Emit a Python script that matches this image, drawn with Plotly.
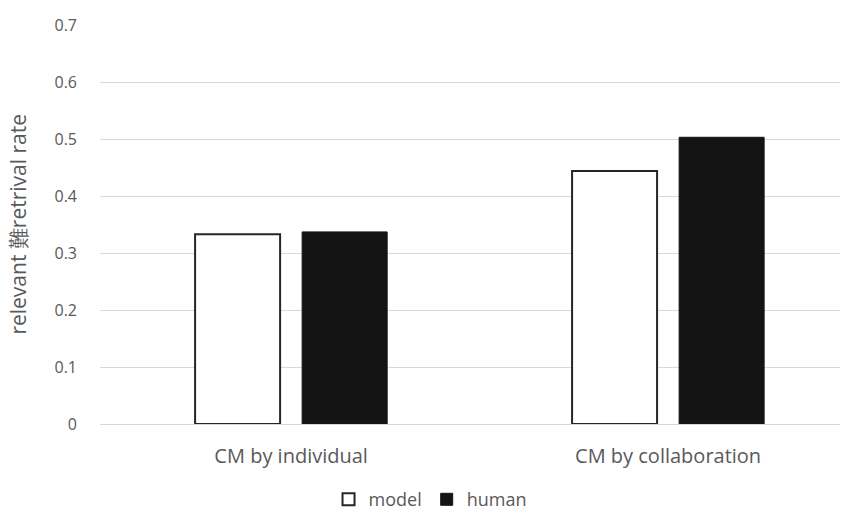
import plotly.graph_objects as go

categories = ["CM by individual", "CM by collaboration"]
model_rate = [0.333, 0.444]
human_rate = [0.337, 0.503]
y_ticks = [0, 0.1, 0.2, 0.3, 0.4, 0.5, 0.6, 0.7]
y_tick_labels = ["0", "0.1", "0.2", "0.3", "0.4", "0.5", "0.6", "0.7"]
y_title = "relevant 難retrival rate"

FONT = "Open Sans, Noto Sans, sans-serif"
GREY = "#595959"

fig = go.Figure()
fig.add_trace(go.Bar(
    name="model", x=categories, y=model_rate,
    marker=dict(color="white", line=dict(color="#262626", width=2)),
))
fig.add_trace(go.Bar(
    name="human", x=categories, y=human_rate,
    marker=dict(color="#141414", line=dict(color="#141414", width=1)),
))

# vertical axis title placed as a rotated annotation near the left edge
fig.add_annotation(
    text=y_title, textangle=-90, xref="paper", yref="paper",
    x=-0.112, y=0.5, xanchor="center", yanchor="middle", showarrow=False,
    font=dict(family=FONT, size=21, color=GREY),
)

fig.update_layout(
    width=851, height=514,
    margin=dict(l=100, r=11, t=25, b=90),
    plot_bgcolor="white", paper_bgcolor="white",
    barmode="group", bargap=0.432, bargroupgap=0.206,
    font=dict(family=FONT, size=16, color=GREY),
    showlegend=True,
    legend=dict(orientation="h", x=0.446, xanchor="center",
                yref="container", y=0.028, yanchor="middle",
                font=dict(size=18, color=GREY), itemwidth=30, traceorder="normal"),
    xaxis=dict(range=[-0.507, 1.456], showgrid=False, showline=True,
               linecolor="#d9d9d9", linewidth=1, ticks="", ticklabelstandoff=14,
               tickfont=dict(size=20, color=GREY)),
    yaxis=dict(range=[0, 0.7], tickvals=y_ticks, ticktext=y_tick_labels,
               showgrid=True, gridcolor="#d9d9d9", gridwidth=1, zeroline=False,
               showline=False, ticks="", ticklabelstandoff=22,
               tickfont=dict(size=16, color=GREY)),
)

fig.write_html("out.html")
